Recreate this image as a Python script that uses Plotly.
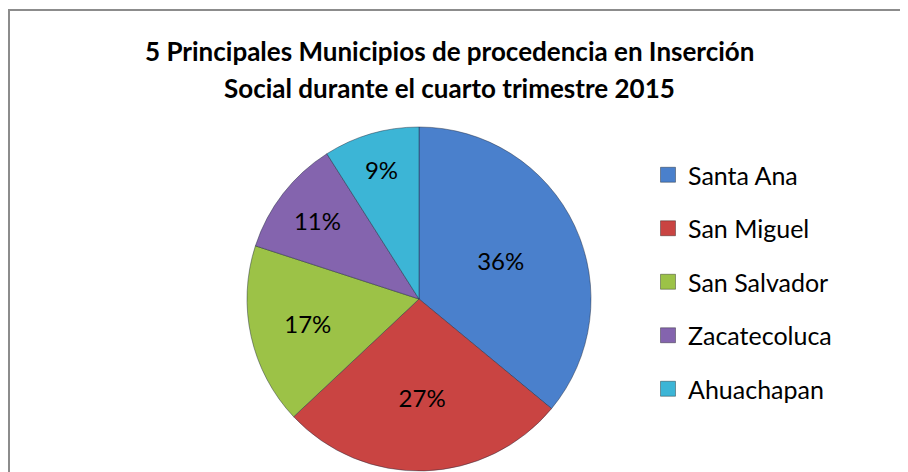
import plotly.graph_objects as go

categories = ["Santa Ana", "San Miguel", "San Salvador", "Zacatecoluca", "Ahuachapan"]
values = [36, 27, 17, 11, 9]
colors = ["#4A80CC", "#C94442", "#9CC247", "#8464AE", "#3CB5D6"]
title_lines = ["5 Principales Municipios de procedencia en Inserción",
               "Social durante el cuarto trimestre 2015"]

# page body has an 8px margin, so the figure occupies 900x464 of the window
W, H = 900, 464
OFF = 8

def px(x):
    return (x - OFF) / W

def py(y):
    return 1 - (y - OFF) / H

fig = go.Figure()

fig.add_trace(go.Pie(
    labels=categories, values=values, sort=False, direction="clockwise", rotation=0,
    marker=dict(colors=colors, line=dict(color="rgba(30,40,60,0.45)", width=1)),
    textinfo="percent", texttemplate="%{percent:.0%}", textposition="inside",
    insidetextorientation="horizontal",
    textfont=dict(family="Lato", size=24, color="black"),
    showlegend=False, hoverinfo="label+percent",
    domain=dict(x=[px(419 - 172), px(419 + 172)], y=[py(471), py(127)]),
))

for c, col in zip(categories, colors):
    fig.add_trace(go.Scatter(
        x=[None], y=[None], mode="markers", name=c, legendgroup=c,
        marker=dict(symbol="square", size=15, color=col,
                    line=dict(color="rgba(0,0,0,0.35)", width=1)),
    ))

fig.add_annotation(text="<b>" + title_lines[0] + "</b>", x=px(449.5), y=py(51),
                   xref="paper", yref="paper", showarrow=False, yanchor="middle",
                   font=dict(family="Lato", size=26, color="black"))
fig.add_annotation(text="<b>" + title_lines[1] + "</b>", x=px(449.5), y=py(87.5),
                   xref="paper", yref="paper", showarrow=False, yanchor="middle",
                   font=dict(family="Lato", size=26, color="black"))

fig.add_shape(type="rect", xref="paper", yref="paper",
              x0=px(9), x1=1.02, y0=-0.02, y1=py(10),
              line=dict(color="#8C8C8C", width=2), fillcolor="rgba(0,0,0,0)", layer="below")

fig.update_layout(
    width=W, height=H, margin=dict(l=0, r=0, t=0, b=0),
    paper_bgcolor="white", plot_bgcolor="white",
    xaxis=dict(visible=False), yaxis=dict(visible=False),
    legend=dict(x=px(648), y=py(152), xanchor="left", yanchor="top",
                font=dict(family="Lato", size=25, color="black"),
                tracegroupgap=18, itemclick=False),
)

fig.write_html("out.html")
